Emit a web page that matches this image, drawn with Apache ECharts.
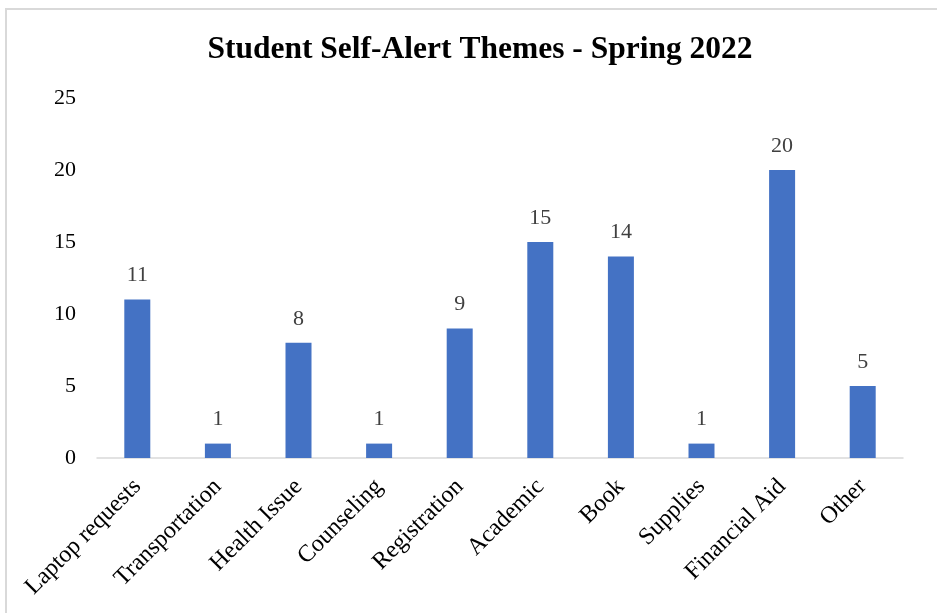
<!DOCTYPE html>
<html>
<head>
<meta charset="utf-8">
<script src="https://cdn.jsdelivr.net/npm/echarts@6/dist/echarts.min.js"></script>
<style>
html,body{margin:0;padding:0;background:#fff;}
#chart{width:937px;height:613px;}
</style>
</head>
<body>
<div id="chart"></div>
<script>
const titleText = 'Student Self-Alert Themes - Spring 2022';
const categories = ['Laptop requests','Transportation','Health Issue','Counseling','Registration','Academic','Book','Supplies','Financial Aid','Other'];
const values = [11, 1, 8, 1, 9, 15, 14, 1, 20, 5];
const yTicks = { min: 0, max: 25, interval: 5 };

const FONT = '"Liberation Serif", "Times New Roman", serif';
const chart = echarts.init(document.getElementById('chart'), null, { renderer: 'canvas' });
chart.setOption({
  animation: false,
  backgroundColor: '#fff',
  title: {
    text: titleText,
    left: 475,
    top: 29,
    textAlign: 'center',
    textStyle: { fontFamily: FONT, fontWeight: 'bold', fontSize: 31.5, color: '#000' }
  },
  graphic: [{
    type: 'rect',
    shape: { x: 6, y: 9, width: 2000, height: 2000 },
    style: { fill: 'none', stroke: '#d9d9d9', lineWidth: 2 },
    silent: true, z: -1
  }],
  grid: { left: 97, right: 34, top: 98, bottom: 155, containLabel: false, outerBoundsMode: 'none' },
  xAxis: {
    type: 'category',
    data: categories,
    axisLine: { show: true, lineStyle: { color: '#d9d9d9', width: 1.5 } },
    axisTick: { show: false },
    axisLabel: { rotate: 45, interval: 0, margin: 25, fontFamily: FONT, fontSize: 24, color: '#000' }
  },
  yAxis: {
    type: 'value',
    min: yTicks.min, max: yTicks.max, interval: yTicks.interval,
    axisLine: { show: false },
    axisTick: { show: false },
    splitLine: { show: false },
    axisLabel: { margin: 21, fontFamily: FONT, fontSize: 22, color: '#000' }
  },
  series: [{
    type: 'bar',
    data: values,
    barWidth: 26,
    itemStyle: { color: '#4472C4' },
    label: { show: true, position: 'top', distance: 13, fontFamily: FONT, fontSize: 22, color: '#404040' }
  }]
});
</script>
</body>
</html>
